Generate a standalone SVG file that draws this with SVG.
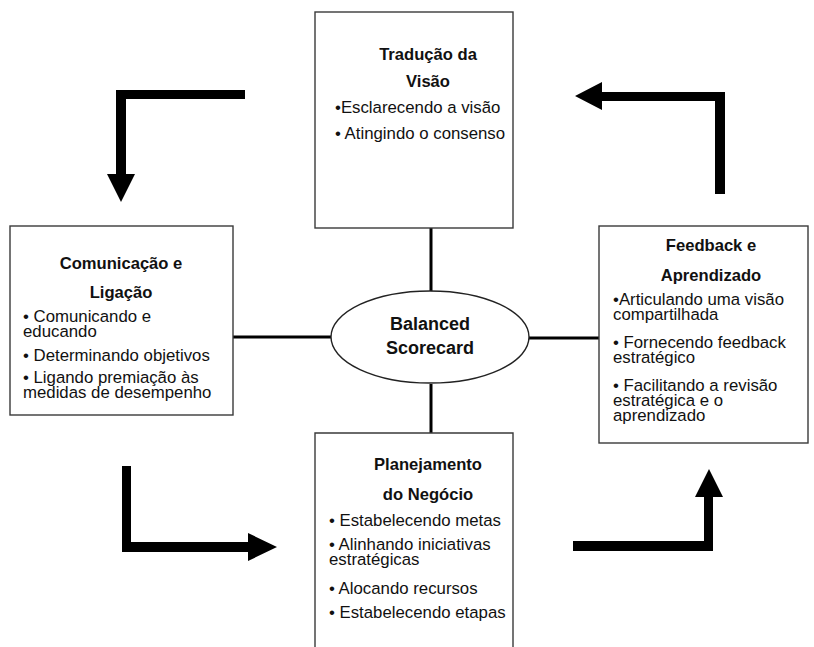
<svg xmlns="http://www.w3.org/2000/svg" width="814" height="647" viewBox="0 0 814 647">
<style>
.box{fill:#fff;stroke:#3a3a3a;stroke-width:1.4}
.t{font-family:"Liberation Sans",Arial,sans-serif;font-size:16.6px;font-weight:bold;fill:#111;text-anchor:middle}
.b{font-family:"Liberation Sans",Arial,sans-serif;font-size:16.8px;fill:#111}
.bs{font-family:"Liberation Sans",Arial,sans-serif;font-size:18px;font-weight:bold;fill:#111;text-anchor:middle}
.ln{stroke:#000;stroke-width:3;fill:none}
.ar{fill:#000}
</style>
<rect width="814" height="647" fill="#fff"/>
<g id="connectors">
<line class="ln" x1="431" y1="228" x2="431" y2="291"/>
<line class="ln" x1="233" y1="337" x2="331" y2="337"/>
<line class="ln" x1="529" y1="338" x2="599" y2="338"/>
<line class="ln" x1="431" y1="384" x2="431" y2="433"/>
<path class="ar" d="M116,90 H245 V99 H126 V174 H135 L121,202 L107,174 H116 Z"/>
<path class="ar" d="M725,194 H715 V101 H602 V110 L575,96 L602,82 V92 H725 Z"/>
<path class="ar" d="M122,466 H131 V542 H248 V533 L277,547 L248,561 V552 H122 Z"/>
<path class="ar" d="M573,541 H704 V497 H695 L709,469 L723,497 H713 V551 H573 Z"/>
</g>
<g id="traducao">
<rect class="box" x="315" y="12" width="198" height="216"/>
<text class="t" x="428" y="60">Tradução da</text>
<text class="t" x="428" y="87">Visão</text>
<text class="b" x="335" y="113">•Esclarecendo a visão</text>
<text class="b" x="335" y="139">• Atingindo o consenso</text>
</g>
<g id="comunicacao">
<rect class="box" x="10" y="226" width="223" height="189"/>
<text class="t" x="121" y="269">Comunicação e</text>
<text class="t" x="121" y="298">Ligação</text>
<text class="b" x="23" y="322">• Comunicando e</text>
<text class="b" x="23" y="337">educando</text>
<text class="b" x="23" y="361">• Determinando objetivos</text>
<text class="b" x="23" y="383">• Ligando premiação às</text>
<text class="b" x="23" y="398">medidas de desempenho</text>
</g>
<g id="feedback">
<rect class="box" x="599" y="226" width="209" height="217"/>
<text class="t" x="711" y="251">Feedback e</text>
<text class="t" x="711" y="281">Aprendizado</text>
<text class="b" x="613" y="305">•Articulando uma visão</text>
<text class="b" x="613" y="320">compartilhada</text>
<text class="b" x="613" y="348">• Fornecendo feedback</text>
<text class="b" x="613" y="363">estratégico</text>
<text class="b" x="613" y="391">• Facilitando a revisão</text>
<text class="b" x="613" y="406">estratégica e o</text>
<text class="b" x="613" y="421">aprendizado</text>
</g>
<g id="planejamento">
<path class="box" d="M315,660 V433 H513 V660"/>
<text class="t" x="428" y="470">Planejamento</text>
<text class="t" x="428" y="500">do Negócio</text>
<text class="b" x="329" y="526">• Estabelecendo metas</text>
<text class="b" x="329" y="550">• Alinhando iniciativas</text>
<text class="b" x="329" y="565">estratégicas</text>
<text class="b" x="329" y="594">• Alocando recursos</text>
<text class="b" x="329" y="618">• Estabelecendo etapas</text>
</g>
<g id="balanced">
<ellipse cx="430" cy="337" rx="99" ry="46" fill="#fff" stroke="#222" stroke-width="1.4"/>
<text class="bs" x="430" y="330">Balanced</text>
<text class="bs" x="430" y="354">Scorecard</text>
</g>
</svg>
